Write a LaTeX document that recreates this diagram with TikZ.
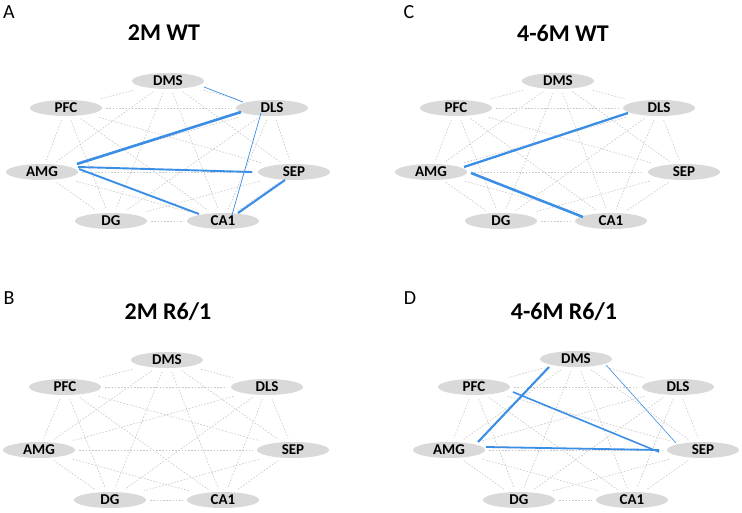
\documentclass[tikz,border=0pt]{standalone}
\usepackage{fontspec}
\setmainfont{Carlito}
\pgfdeclarelayer{ellbg}
\pgfdeclarelayer{edges}
\pgfsetlayers{ellbg,edges,main}
\definecolor{netblue}{RGB}{58,142,230}
\definecolor{ellgray}{RGB}{217,217,217}
\definecolor{dashgray}{RGB}{200,200,200}
\tikzset{
  region/.style={rectangle, minimum width=72pt, minimum height=16pt, inner sep=0pt,
    font=\bfseries\fontsize{15}{15}\selectfont},
  gline/.style={draw=dashgray, line width=0.6pt, dash pattern=on 1.6pt off 1.6pt,
    shorten >=4pt, shorten <=4pt},
  bline/.style={draw=netblue},
  paneltitle/.style={font=\bfseries\fontsize{24}{24}\selectfont},
  panelletter/.style={font=\fontsize{20}{20}\selectfont}
}
\begin{document}
\begin{tikzpicture}[x=1pt,y=-1pt]
\useasboundingbox (0,0) rectangle (742,513);
% panel letters and titles
\node[panelletter] (la) at (9,12) {A};
\node[panelletter] (lc) at (409,12) {C};
\node[panelletter] (lb) at (9,298) {B};
\node[panelletter] (ld) at (410,298) {D};
\node[paneltitle] (ta) at (164,33) {2M WT};
\node[paneltitle] (tc) at (563,33) {4-6M WT};
\node[paneltitle] (tb) at (168,312) {2M R6/1};
\node[paneltitle] (td) at (564,312) {4-6M R6/1};
% panel A nodes
\node[region] (a-dms) at (168,81) {DMS};
\node[region] (a-pfc) at (66,108) {PFC};
\node[region] (a-dls) at (272,108) {DLS};
\node[region] (a-amg) at (42,172) {AMG};
\node[region] (a-sep) at (294,172) {SEP};
\node[region] (a-dg) at (111,221) {DG};
\node[region] (a-ca1) at (223,221) {CA1};
% panel C nodes
\node[region] (c-dms) at (558,81) {DMS};
\node[region] (c-pfc) at (456,108) {PFC};
\node[region] (c-dls) at (659,108) {DLS};
\node[region] (c-amg) at (431,172) {AMG};
\node[region] (c-sep) at (684,172) {SEP};
\node[region] (c-dg) at (501,221) {DG};
\node[region] (c-ca1) at (611,221) {CA1};
% panel B nodes
\node[region] (b-dms) at (167,360) {DMS};
\node[region] (b-pfc) at (65,387) {PFC};
\node[region] (b-dls) at (267,387) {DLS};
\node[region] (b-amg) at (39,450) {AMG};
\node[region] (b-sep) at (293,450) {SEP};
\node[region] (b-dg) at (110,500) {DG};
\node[region] (b-ca1) at (223,500) {CA1};
% panel D nodes
\node[region] (d-dms) at (576,359) {DMS};
\node[region] (d-pfc) at (474,387) {PFC};
\node[region] (d-dls) at (678,387) {DLS};
\node[region] (d-amg) at (449,450) {AMG};
\node[region] (d-sep) at (703,450) {SEP};
\node[region] (d-dg) at (519,500) {DG};
\node[region] (d-ca1) at (632,500) {CA1};
% background and ellipses
\begin{pgfonlayer}{ellbg}
\fill[white] (0,0) rectangle (742,513);
\foreach \p in {a,b,c,d}{
  \foreach \n in {dms,pfc,dls,amg,sep,dg,ca1}{
    \fill[ellgray] (\p-\n.center) ellipse [x radius=36pt, y radius=8pt];
  }
}
\end{pgfonlayer}
% edges
\begin{pgfonlayer}{edges}
\foreach \p in {a,b,c,d}{
  \foreach \u/\v in {dms/pfc,dms/dls,dms/amg,dms/sep,dms/dg,dms/ca1,
                     pfc/dls,pfc/amg,pfc/sep,pfc/dg,pfc/ca1,
                     dls/amg,dls/sep,dls/dg,dls/ca1,
                     amg/sep,amg/dg,amg/ca1,
                     sep/dg,sep/ca1,dg/ca1}{
    \draw[gline] (\p-\u) -- (\p-\v);
  }
}
% panel A significant
\draw[bline, line width=0.7pt] ([shift={(36,6)}]a-dms.center) -- ([shift={(-29,-6)}]a-dls.center);
\draw[bline, line width=2.6pt] ([shift={(35,-8)}]a-amg.center) -- ([shift={(-31,4)}]a-dls.center);
\draw[bline, line width=1.9pt] ([shift={(36,-5)}]a-amg.center) -- ([shift={(-42,0)}]a-sep.center);
\draw[bline, line width=1.9pt] ([shift={(37,-3)}]a-amg.center) -- ([shift={(-24,-7)}]a-ca1.center);
\draw[bline, line width=0.7pt] ([shift={(-11,5)}]a-dls.center) -- ([shift={(9,-6)}]a-ca1.center);
\draw[bline, line width=2.1pt] ([shift={(-9,8)}]a-sep.center) -- ([shift={(15,-8)}]a-ca1.center);
% panel C significant
\draw[bline, line width=2.3pt] ([shift={(33,-5)}]c-amg.center) -- ([shift={(-31,5)}]c-dls.center);
\draw[bline, line width=2.5pt] ([shift={(40,1)}]c-amg.center) -- ([shift={(-28,-4)}]c-ca1.center);
% panel D significant
\draw[bline, line width=2.1pt] ([shift={(-27,8)}]d-dms.center) -- ([shift={(29,-8)}]d-amg.center);
\draw[bline, line width=1.6pt] ([shift={(39,5)}]d-pfc.center) -- ([shift={(-44,2)}]d-sep.center);
\draw[bline, line width=1.8pt] ([shift={(37,-3)}]d-amg.center) -- ([shift={(-44,0)}]d-sep.center);
\draw[bline, line width=0.6pt] ([shift={(30,6)}]d-dms.center) -- ([shift={(-27,-7)}]d-sep.center);
\end{pgfonlayer}
\end{tikzpicture}
\end{document}
